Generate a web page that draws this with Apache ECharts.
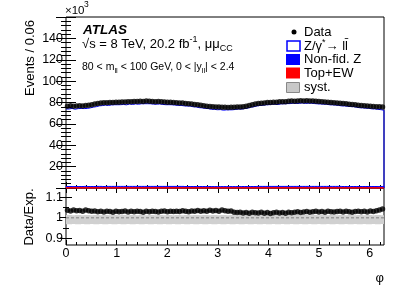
<!DOCTYPE html>
<html><head><meta charset="utf-8">
<script src="https://cdn.jsdelivr.net/npm/echarts@6/dist/echarts.min.js"></script>
<style>html,body{margin:0;padding:0;background:#fff;}#c{width:407px;height:292px;}</style>
</head><body><div id="c"></div>
<script>
// ---- data (events in thousands per bin of phi, 105 bins over 0..2pi) ----
const dataVals = [
 76.6,76.9,76.5,76.8,77.0,76.7,77.2,77.5,78.0,
 78.6,79.1,79.5,79.8,79.7,80.1,80.0,80.3,80.2,
 80.5,80.4,80.8,80.6,81.0,80.9,81.2,81.0,81.3,
 81.1,81.0,80.8,80.9,80.6,80.5,80.2,80.3,80.0,
 79.8,79.6,79.5,79.1,78.9,78.5,78.2,77.8,77.4,
 77.0,76.6,76.3,76.0,75.8,75.7,75.5,75.6,
 75.4,75.6,75.5,75.8,75.7,76.1,76.6,77.3,78.0,
 78.6,79.0,79.4,79.6,79.9,80.1,80.3,80.2,80.6,
 80.8,80.7,81.1,81.3,81.2,81.5,81.6,81.4,81.7,
 81.5,81.3,81.2,80.9,80.8,80.5,80.3,80.1,79.8,
 79.6,79.3,79.0,78.8,78.4,78.1,77.8,77.5,77.2,
 77.0,76.7,76.5,76.3,76.1,76.0,75.8
];
const ratioVals = [
 1.036,1.033,1.038,1.034,1.035,1.032,1.037,1.034,1.031,
 1.033,1.029,1.031,1.028,1.032,1.030,1.027,1.031,1.029,
 1.030,1.033,1.028,1.031,1.029,1.032,1.030,1.027,1.031,
 1.029,1.032,1.030,1.028,1.031,1.033,1.029,1.031,1.030,
 1.032,1.030,1.034,1.031,1.029,1.033,1.031,1.035,1.032,
 1.034,1.031,1.036,1.033,1.035,1.032,1.037,1.034,
 1.031,1.033,1.027,1.025,1.026,1.023,1.025,1.022,1.026,
 1.024,1.023,1.026,1.022,1.025,1.021,1.024,1.026,1.023,
 1.025,1.022,1.027,1.024,1.026,1.029,1.025,1.028,1.030,
 1.027,1.029,1.031,1.028,1.030,1.027,1.031,1.029,1.028,
 1.030,1.032,1.028,1.031,1.029,1.026,1.030,1.032,1.029,
 1.031,1.028,1.033,1.030,1.034,1.037,1.042
];
const nonFidVals = [
 1.1,1.1,1.0,1.1,1.1,1.1,1.2,1.1,1.1,
 1.1,1.2,1.2,1.1,1.2,1.2,1.2,1.2,1.2,
 1.2,1.2,1.2,1.2,1.2,1.2,1.2,1.2,1.2,
 1.2,1.2,1.2,1.2,1.2,1.2,1.2,1.2,1.2,
 1.2,1.2,1.2,1.1,1.1,1.1,1.1,1.1,1.1,
 1.1,1.1,1.1,1.0,1.0,1.0,1.0,1.0,
 1.0,1.0,1.0,1.0,1.0,1.1,1.1,1.1,1.1,
 1.1,1.2,1.2,1.2,1.2,1.2,1.2,1.2,1.2,
 1.2,1.2,1.2,1.2,1.2,1.2,1.2,1.2,1.2,
 1.2,1.2,1.2,1.2,1.2,1.2,1.2,1.2,1.2,
 1.2,1.2,1.1,1.1,1.1,1.1,1.1,1.1,1.1,
 1.1,1.1,1.1,1.1,1.1,1.0,1.0
];
const topEwVals = [
 0.3,0.3,0.3,0.3,0.3,0.3,0.3,0.3,0.3,
 0.3,0.3,0.3,0.3,0.3,0.3,0.3,0.3,0.3,
 0.3,0.3,0.3,0.3,0.3,0.3,0.3,0.3,0.3,
 0.3,0.3,0.3,0.3,0.3,0.3,0.3,0.3,0.3,
 0.3,0.3,0.3,0.3,0.3,0.3,0.3,0.3,0.3,
 0.3,0.3,0.3,0.3,0.3,0.3,0.3,0.3,
 0.3,0.3,0.3,0.3,0.3,0.3,0.3,0.3,0.3,
 0.3,0.3,0.3,0.3,0.3,0.3,0.3,0.3,0.3,
 0.3,0.3,0.3,0.3,0.3,0.3,0.3,0.3,0.3,
 0.3,0.3,0.3,0.3,0.3,0.3,0.3,0.3,0.3,
 0.3,0.3,0.3,0.3,0.3,0.3,0.3,0.3,0.3,
 0.3,0.3,0.3,0.3,0.3,0.3,0.3
];
const systLow = [
 0.969,0.969,0.970,0.969,0.969,0.970,0.969,0.969,0.970,
 0.969,0.969,0.970,0.969,0.969,0.970,0.969,0.969,0.970,
 0.969,0.969,0.970,0.969,0.969,0.970,0.969,0.969,0.970,
 0.969,0.969,0.970,0.969,0.969,0.970,0.969,0.969,0.970,
 0.969,0.969,0.970,0.969,0.969,0.970,0.969,0.969,0.970,
 0.969,0.969,0.970,0.969,0.969,0.970,0.969,0.969,
 0.970,0.969,0.969,0.970,0.969,0.969,0.970,0.969,0.969,
 0.970,0.969,0.969,0.970,0.969,0.969,0.970,0.969,0.969,
 0.970,0.969,0.969,0.970,0.969,0.969,0.970,0.969,0.969,
 0.970,0.969,0.969,0.970,0.969,0.969,0.970,0.969,0.969,
 0.970,0.969,0.969,0.970,0.969,0.969,0.970,0.969,0.969,
 0.970,0.969,0.969,0.970,0.969,0.969,0.970
];
const systHigh = [
 1.013,1.013,1.012,1.013,1.013,1.012,1.013,1.013,1.012,
 1.013,1.013,1.012,1.013,1.013,1.012,1.013,1.013,1.012,
 1.013,1.013,1.012,1.013,1.013,1.012,1.013,1.013,1.012,
 1.013,1.013,1.012,1.013,1.013,1.012,1.013,1.013,1.012,
 1.013,1.013,1.012,1.013,1.013,1.012,1.013,1.013,1.012,
 1.013,1.013,1.012,1.013,1.013,1.012,1.013,1.013,
 1.012,1.013,1.013,1.012,1.013,1.013,1.012,1.013,1.013,
 1.012,1.013,1.013,1.012,1.013,1.013,1.012,1.013,1.013,
 1.012,1.013,1.013,1.012,1.013,1.013,1.012,1.013,1.013,
 1.012,1.013,1.013,1.012,1.013,1.013,1.012,1.013,1.013,
 1.012,1.013,1.013,1.012,1.013,1.013,1.012,1.013,1.013,
 1.012,1.013,1.013,1.012,1.013,1.013,1.012
];
const xTickLabels = [0,1,2,3,4,5,6];
const yMainTicks = [0,20,40,60,80,100,120,140,160];
const yMainLabels = [20,40,60,80,100,120,140];
const yRatioTicks = [0.9,1.0,1.1];
const yRatioMinor = [0.95,1.05];

const FONT = '"Liberation Sans", Arial, Helvetica, sans-serif';
const TWO_PI = 2 * Math.PI;
const N = dataVals.length;
const binW = TWO_PI / N;
const edges = dataVals.map((_, i) => i * binW);
const centers = dataVals.map((_, i) => (i + 0.5) * binW);
const expTotal = dataVals.map((v, i) => v / ratioVals[i]);
const topEwTop = topEwVals.slice();
const nonFidTop = nonFidVals.map((v, i) => v + topEwVals[i]);
const zeros = dataVals.map(() => 0);
function stepPts(vals) { const p = vals.map((v, i) => [edges[i], v]); p.push([TWO_PI, vals[N - 1]]); return p; }

const xMinor = []; for (let k = 1; k < 32; k++) { if (k % 5) xMinor.push(k * 0.2); }
const yMainMinor = []; for (let k = 1; k < 40; k++) { if (k % 5) yMainMinor.push(k * 4); }

function mkX(grid, pos, ticks, len, labels) {
  return { type: 'value', gridIndex: grid, position: pos, min: 0, max: TWO_PI,
    axisLine: { show: false }, splitLine: { show: false },
    axisTick: { show: true, inside: true, length: len, customValues: ticks, lineStyle: { color: '#000', width: 1 } },
    axisLabel: labels ? { show: true, customValues: labels, margin: 2, color: '#000', fontSize: 12.5, fontFamily: FONT } : { show: false } };
}
function mkY(grid, pos, min, max, ticks, len, labels) {
  return { type: 'value', gridIndex: grid, position: pos, min: min, max: max,
    axisLine: { show: false }, splitLine: { show: false },
    axisTick: { show: true, inside: true, length: len, customValues: ticks, lineStyle: { color: '#000', width: 1 } },
    axisLabel: labels ? { show: true, customValues: labels, margin: 3, color: '#000', fontSize: 12.5, fontFamily: FONT } : { show: false } };
}
const RMIN = 0.868, RMAX = 1.144;

// band polygon between two per-bin arrays, through the axis scales
function bandSeries(xi, yi, low, high, style, z) {
  return { type: 'custom', coordinateSystem: 'cartesian2d', xAxisIndex: xi, yAxisIndex: yi, z: z, silent: true,
    data: [[0, 0]],
    renderItem: function (params, api) {
      const pts = [];
      for (let i = 0; i < N; i++) { pts.push(api.coord([edges[i], high[i]])); pts.push(api.coord([edges[i] + binW, high[i]])); }
      for (let i = N - 1; i >= 0; i--) { pts.push(api.coord([edges[i] + binW, low[i]])); pts.push(api.coord([edges[i], low[i]])); }
      return { type: 'polygon', shape: { points: pts }, style: style };
    } };
}

const chart = echarts.init(document.getElementById('c'), null, { renderer: 'canvas' });
const zOutline = stepPts(expTotal); zOutline.push([TWO_PI, 0]);

chart.setOption({
  animation: false,
  backgroundColor: '#fff',
  grid: [
    { left: 66, top: 17, width: 318, height: 171, show: true, borderColor: '#000', borderWidth: 1, backgroundColor: 'transparent' },
    { left: 66, top: 188, width: 318, height: 57, show: true, borderColor: '#000', borderWidth: 1, backgroundColor: 'transparent' }
  ],
  xAxis: [
    mkX(0, 'bottom', xTickLabels, 6, null), mkX(0, 'bottom', xMinor, 3, null),
    mkX(0, 'top', xTickLabels, 5, null), mkX(0, 'top', xMinor, 3, null),
    mkX(1, 'bottom', xTickLabels, 5, xTickLabels), mkX(1, 'bottom', xMinor, 3, null),
    mkX(1, 'top', xTickLabels, 5, null), mkX(1, 'top', xMinor, 3, null)
  ],
  yAxis: [
    mkY(0, 'left', 0, 160, yMainTicks, 10, yMainLabels), mkY(0, 'left', 0, 160, yMainMinor, 5, null),
    mkY(0, 'right', 0, 160, yMainTicks, 10, null), mkY(0, 'right', 0, 160, yMainMinor, 5, null),
    mkY(1, 'left', RMIN, RMAX, yRatioTicks, 6, yRatioTicks), mkY(1, 'left', RMIN, RMAX, yRatioMinor, 3, null),
    mkY(1, 'right', RMIN, RMAX, yRatioTicks, 6, null), mkY(1, 'right', RMIN, RMAX, yRatioMinor, 3, null)
  ],
  series: [
    bandSeries(0, 0, topEwTop, nonFidTop, { fill: '#0000ff', stroke: '#0000ff', lineWidth: 1 }, 2),
    bandSeries(0, 0, zeros, topEwTop, { fill: '#ff0000', stroke: '#ff0000', lineWidth: 1 }, 3),
    { name: 'Z', type: 'line', xAxisIndex: 0, yAxisIndex: 0, step: 'end', symbol: 'none', z: 4,
      data: zOutline, lineStyle: { color: '#0000ff', width: 1 } },
    { name: 'Data', type: 'scatter', xAxisIndex: 0, yAxisIndex: 0, symbol: 'circle', symbolSize: 5.5, z: 5,
      data: centers.map((c, i) => [c, dataVals[i]]), itemStyle: { color: '#000' } },
    bandSeries(4, 4, systLow, systHigh, { fill: '#d0d0d0' }, 2),
    { name: 'one', type: 'line', xAxisIndex: 4, yAxisIndex: 4, symbol: 'none', z: 3,
      data: [[0, 1], [TWO_PI, 1]], lineStyle: { color: '#999', width: 1.5, type: [3, 2] } },
    { name: 'Ratio', type: 'scatter', xAxisIndex: 4, yAxisIndex: 4, symbol: 'circle', symbolSize: 5.5, z: 5,
      data: centers.map((c, i) => [c, ratioVals[i]]), itemStyle: { color: '#000' } }
  ],
  graphic: [
    { type: 'text', x: 65, y: 11, style: { text: '×10', font: '11.5px ' + FONT, fill: '#000', align: 'left', verticalAlign: 'middle', textAlign: 'left', textVerticalAlign: 'middle' } },
    { type: 'text', x: 84, y: 5, style: { text: '3', font: '8.5px ' + FONT, fill: '#000', align: 'left', verticalAlign: 'middle', textAlign: 'left', textVerticalAlign: 'middle' } },
    { type: 'text', x: 30, y: 20, rotation: Math.PI / 2, style: { text: 'Events / 0.06', font: '13px ' + FONT, fill: '#000', align: 'right', verticalAlign: 'middle', textAlign: 'right', textVerticalAlign: 'middle' } },
    { type: 'text', x: 29, y: 217, rotation: Math.PI / 2, style: { text: 'Data/Exp.', font: '13px ' + FONT, fill: '#000', align: 'center', verticalAlign: 'middle', textAlign: 'center', textVerticalAlign: 'middle' } },
    { type: 'text', x: 384, y: 278, style: { text: 'φ', font: '13px ' + FONT, fill: '#000', align: 'right', verticalAlign: 'middle', textAlign: 'right', textVerticalAlign: 'middle' } },
    { type: 'text', x: 83, y: 30, style: { text: 'ATLAS', font: 'italic bold 13.5px ' + FONT, fill: '#000', align: 'left', verticalAlign: 'middle', textAlign: 'left', textVerticalAlign: 'middle' } },
    { type: 'text', x: 82, y: 44, style: { text: '{n|√s = 8 TeV, 20.2 fb}{p|-1}{n|, μμ}{b|CC}', align: 'left', verticalAlign: 'middle', textAlign: 'left', textVerticalAlign: 'middle',
      rich: { n: { font: '13px ' + FONT, fill: '#000', color: '#000', verticalAlign: 'middle', lineHeight: 18 },
              p: { font: '9px ' + FONT, fill: '#000', color: '#000', verticalAlign: 'top', lineHeight: 18 },
              b: { font: '9px ' + FONT, fill: '#000', color: '#000', verticalAlign: 'bottom', lineHeight: 18 } } } },
    { type: 'text', x: 82, y: 67, style: { text: '{n|80 < m}{b|ll}{n| < 100 GeV, 0 < |y}{b|ll}{n|| < 2.4}', align: 'left', verticalAlign: 'middle', textAlign: 'left', textVerticalAlign: 'middle',
      rich: { n: { font: '10.5px ' + FONT, fill: '#000', color: '#000', verticalAlign: 'middle', lineHeight: 15 },
              b: { font: '7.5px ' + FONT, fill: '#000', color: '#000', verticalAlign: 'bottom', lineHeight: 15 } } } },
    // legend
    { type: 'circle', shape: { cx: 294, cy: 32, r: 2.5 }, style: { fill: '#000' } },
    { type: 'text', x: 304, y: 32, style: { text: 'Data', font: '13px ' + FONT, fill: '#000', align: 'left', verticalAlign: 'middle', textAlign: 'left', textVerticalAlign: 'middle' } },
    { type: 'rect', shape: { x: 287, y: 41, width: 13, height: 10 }, style: { fill: '#fff', stroke: '#0000ff', lineWidth: 1.5 } },
    { type: 'text', x: 304, y: 46, style: { text: '{n|Z/γ}{p|*}{n|→ ll\u0304}', align: 'left', verticalAlign: 'middle', textAlign: 'left', textVerticalAlign: 'middle',
      rich: { n: { font: '13px ' + FONT, fill: '#000', color: '#000', verticalAlign: 'middle', lineHeight: 16 },
              p: { font: '9px ' + FONT, fill: '#000', color: '#000', verticalAlign: 'top', lineHeight: 16 } } } },
    { type: 'rect', shape: { x: 286, y: 54, width: 14, height: 11 }, style: { fill: '#0000ff' } },
    { type: 'text', x: 304, y: 59.5, style: { text: 'Non-fid. Z', font: '13px ' + FONT, fill: '#000', align: 'left', verticalAlign: 'middle', textAlign: 'left', textVerticalAlign: 'middle' } },
    { type: 'rect', shape: { x: 286, y: 67.5, width: 14, height: 11 }, style: { fill: '#ff0000' } },
    { type: 'text', x: 304, y: 73, style: { text: 'Top+EW', font: '13px ' + FONT, fill: '#000', align: 'left', verticalAlign: 'middle', textAlign: 'left', textVerticalAlign: 'middle' } },
    { type: 'rect', shape: { x: 286.5, y: 82.5, width: 13, height: 10 }, style: { fill: '#c8c8c8', stroke: '#888', lineWidth: 1 } },
    { type: 'text', x: 304, y: 87, style: { text: 'syst.', font: '13px ' + FONT, fill: '#000', align: 'left', verticalAlign: 'middle', textAlign: 'left', textVerticalAlign: 'middle' } }
  ]
});
</script></body></html>
